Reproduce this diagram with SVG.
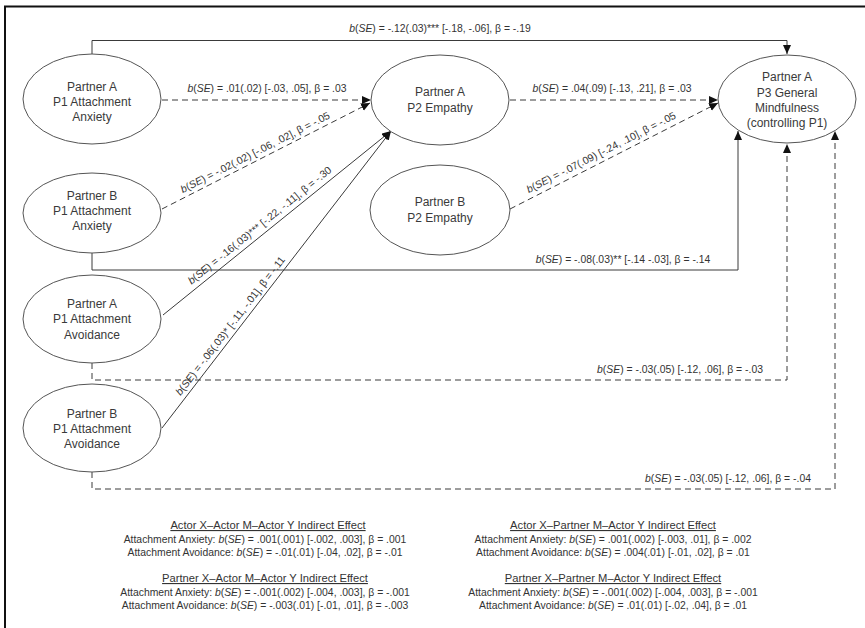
<svg xmlns="http://www.w3.org/2000/svg" width="865" height="628" viewBox="0 0 865 628">
<style>
  .frame{stroke:#111;stroke-width:2;fill:none}
  .node ellipse{fill:#fff;stroke:#555;stroke-width:1}
  .node text{font-family:"Liberation Sans",Arial,sans-serif;font-size:12px;fill:#3a3a3a;text-anchor:middle}
  .edge{fill:none;stroke:#3a3a3a;stroke-width:1}
  .dash{stroke-dasharray:6,4}
  .lbl{font-family:"Liberation Sans",Arial,sans-serif;font-size:10.4px;fill:#333;text-anchor:middle}
  .hdr{font-family:"Liberation Sans",Arial,sans-serif;font-size:11.2px;fill:#333;text-anchor:middle;text-decoration:underline}
  .it{font-style:italic}
</style>
<defs>
  <marker id="arr" markerUnits="userSpaceOnUse" markerWidth="10" markerHeight="9" refX="9" refY="4" orient="auto">
    <path d="M0,0 L9,4 L0,8 z" fill="#111"/>
  </marker>
</defs>
<rect width="865" height="628" fill="#fff"/>
<path class="frame" d="M5,628 V6.5 H865"/>

<g id="connectors">
  <path class="edge" d="M92,54 V40.5 H787 V54" marker-end="url(#arr)"/>
  <path class="edge dash" d="M162,100 H371" marker-end="url(#arr)"/>
  <path class="edge dash" d="M162,209 L370,103" marker-end="url(#arr)"/>
  <path class="edge" d="M163,315 L391,131" marker-end="url(#arr)"/>
  <path class="edge" d="M162,428 L391,131" marker-end="url(#arr)"/>
  <path class="edge dash" d="M510,100 H718" marker-end="url(#arr)"/>
  <path class="edge dash" d="M510,209 L718,103" marker-end="url(#arr)"/>
  <path class="edge" d="M92,253 V270 H738 V131" marker-end="url(#arr)"/>
  <path class="edge dash" d="M92,363 V380 H787 V144" marker-end="url(#arr)"/>
  <path class="edge dash" d="M92,472 V489 H835 V131" marker-end="url(#arr)"/>

  <text class="lbl" x="440" y="32"><tspan class="it">b</tspan>(<tspan class="it">SE</tspan>) = -.12(.03)*** [-.18, -.06], β = -.19</text>
  <text class="lbl" x="267" y="92"><tspan class="it">b</tspan>(<tspan class="it">SE</tspan>) = .01(.02) [-.03, .05], β = .03</text>
  <text class="lbl" transform="translate(259,160) rotate(-27)" x="0" y="-5"><tspan class="it">b</tspan>(<tspan class="it">SE</tspan>) = -.02(.02) [-.06, .02], β = -.05</text>
  <text class="lbl" transform="translate(265,232) rotate(-38.9)" x="0" y="-5"><tspan class="it">b</tspan>(<tspan class="it">SE</tspan>) = -.16(.03)*** [-.22, -.11], β = -.30</text>
  <text class="lbl" transform="translate(237,331) rotate(-52.4)" x="0" y="-5"><tspan class="it">b</tspan>(<tspan class="it">SE</tspan>) = -.06(.03)* [-.11, -.01], β = -.11</text>
  <text class="lbl" x="612" y="92"><tspan class="it">b</tspan>(<tspan class="it">SE</tspan>) = .04(.09) [-.13, .21], β = .03</text>
  <text class="lbl" transform="translate(605,160) rotate(-27)" x="0" y="-5"><tspan class="it">b</tspan>(<tspan class="it">SE</tspan>) = -.07(.09) [-.24, .10], β = -.05</text>
  <text class="lbl" x="623" y="263"><tspan class="it">b</tspan>(<tspan class="it">SE</tspan>) = -.08(.03)** [-.14 -.03], β = -.14</text>
  <text class="lbl" x="680" y="373"><tspan class="it">b</tspan>(<tspan class="it">SE</tspan>) = -.03(.05) [-.12, .06], β = -.03</text>
  <text class="lbl" x="728" y="482"><tspan class="it">b</tspan>(<tspan class="it">SE</tspan>) = -.03(.05) [-.12, .06], β = -.04</text>
</g>

<g id="a_p1_anx" class="node">
  <ellipse cx="92" cy="99" rx="69" ry="45"/>
  <text x="92" y="91">Partner A</text>
  <text x="92" y="106">P1 Attachment</text>
  <text x="92" y="121">Anxiety</text>
</g>
<g id="b_p1_anx" class="node">
  <ellipse cx="92" cy="213" rx="69" ry="40"/>
  <text x="92" y="200">Partner B</text>
  <text x="92" y="215">P1 Attachment</text>
  <text x="92" y="230">Anxiety</text>
</g>
<g id="a_p1_avo" class="node">
  <ellipse cx="92" cy="319" rx="69" ry="44"/>
  <text x="92" y="308">Partner A</text>
  <text x="92" y="323">P1 Attachment</text>
  <text x="92" y="339">Avoidance</text>
</g>
<g id="b_p1_avo" class="node">
  <ellipse cx="92" cy="428" rx="69" ry="44"/>
  <text x="92" y="418">Partner B</text>
  <text x="92" y="433">P1 Attachment</text>
  <text x="92" y="448">Avoidance</text>
</g>
<g id="a_p2_emp" class="node">
  <ellipse cx="440" cy="100" rx="69" ry="45"/>
  <text x="440" y="96">Partner A</text>
  <text x="440" y="112">P2 Empathy</text>
</g>
<g id="b_p2_emp" class="node">
  <ellipse cx="440" cy="210" rx="70" ry="45"/>
  <text x="440" y="206">Partner B</text>
  <text x="440" y="222">P2 Empathy</text>
</g>
<g id="a_p3_mind" class="node">
  <ellipse cx="787" cy="99" rx="69" ry="44"/>
  <text x="787" y="81">Partner A</text>
  <text x="787" y="97">P3 General</text>
  <text x="787" y="112">Mindfulness</text>
  <text x="787" y="127">(controlling P1)</text>
</g>

<g id="indirect_effects">
  <text class="hdr" x="268" y="529">Actor X–Actor M–Actor Y Indirect Effect</text>
  <text class="lbl" x="265" y="543">Attachment Anxiety: <tspan class="it">b</tspan>(<tspan class="it">SE</tspan>) = .001(.001) [-.002, .003], β = .001</text>
  <text class="lbl" x="265" y="556">Attachment Avoidance: <tspan class="it">b</tspan>(<tspan class="it">SE</tspan>) = -.01(.01) [-.04, .02], β = -.01</text>
  <text class="hdr" x="265" y="582">Partner X–Actor M–Actor Y Indirect Effect</text>
  <text class="lbl" x="265" y="596">Attachment Anxiety: <tspan class="it">b</tspan>(<tspan class="it">SE</tspan>) = -.001(.002) [-.004, .003], β = -.001</text>
  <text class="lbl" x="265" y="609">Attachment Avoidance: <tspan class="it">b</tspan>(<tspan class="it">SE</tspan>) = -.003(.01) [-.01, .01], β = -.003</text>

  <text class="hdr" x="613" y="529">Actor X–Partner M–Actor Y Indirect Effect</text>
  <text class="lbl" x="613" y="543">Attachment Anxiety: <tspan class="it">b</tspan>(<tspan class="it">SE</tspan>) = .001(.002) [-.003, .01], β = .002</text>
  <text class="lbl" x="613" y="556">Attachment Avoidance: <tspan class="it">b</tspan>(<tspan class="it">SE</tspan>) = .004(.01) [-.01, .02], β = .01</text>
  <text class="hdr" x="613" y="582">Partner X–Partner M–Actor Y Indirect Effect</text>
  <text class="lbl" x="613" y="596">Attachment Anxiety: <tspan class="it">b</tspan>(<tspan class="it">SE</tspan>) = -.001(.002) [-.004, .003], β = -.001</text>
  <text class="lbl" x="613" y="609">Attachment Avoidance: <tspan class="it">b</tspan>(<tspan class="it">SE</tspan>) = .01(.01) [-.02, .04], β = .01</text>
</g>
</svg>
